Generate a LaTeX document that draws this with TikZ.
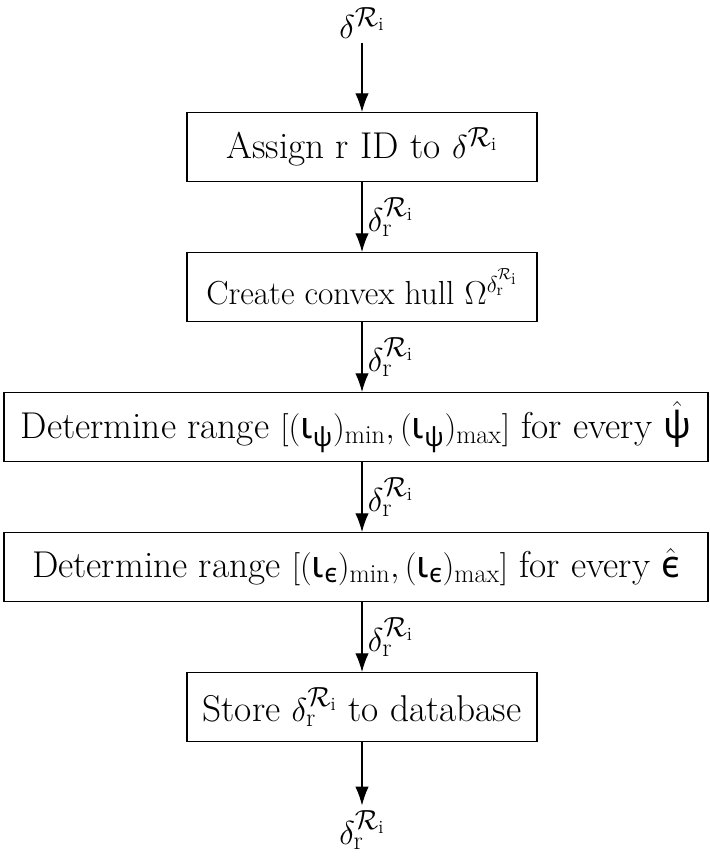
\documentclass[tikz,border=0pt]{standalone}
\usepackage{amsmath}
\usepackage{fontspec}
\usetikzlibrary{arrows.meta}
\newfontfamily\grk{Noto Sans}
\newcommand{\gi}{\text{\grk ι}}
\newcommand{\gpsi}{\text{\grk ψ}}
\newcommand{\geps}{\text{\grk ϵ}}
\newcommand{\dR}{\delta^{\mathcal{R}_{\mathrm{i}}}}
\newcommand{\drR}{\delta_{\mathrm{r}}^{\mathcal{R}_{\mathrm{i}}}}
\begin{document}
\begin{tikzpicture}[x=0.75pt,y=-0.75pt,
  font=\fontsize{28}{33}\selectfont,
  stepbox/.style={draw, line width=0.8pt, minimum height=51.75pt, inner xsep=0pt, inner ysep=0pt, anchor=north},
  flow/.style={draw, line width=0.8pt, -{Latex[length=14pt,width=10pt]}},
  elabel/.style={right, midway, inner sep=4pt}]
\useasboundingbox (0,0) rectangle (710,868);

\node (in) at (362,23) {$\dR$};
\node[stepbox, minimum width=262.5pt] (b1) at (362,112) {Assign r ID to $\dR$};
\node[stepbox, minimum width=262.5pt, font=\fontsize{25}{30}\selectfont] (b2) at (362,252) {Create convex hull $\Omega^{\drR}$};
\node[stepbox, minimum width=528pt] (b3) at (356,392) {Determine range $[(\gi_{\gpsi})_{\mathrm{min}},(\gi_{\gpsi})_{\mathrm{max}}]$ for every $\hat{\gpsi}$};
\node[stepbox, minimum width=528pt] (b4) at (356,532) {Determine range $[(\gi_{\geps})_{\mathrm{min}},(\gi_{\geps})_{\mathrm{max}}]$ for every $\hat{\geps}$};
\node[stepbox, minimum width=262.5pt] (b5) at (362,672) {Store $\drR$ to database};
\node (out) at (362,830) {$\drR$};

\draw[flow] (in) -- (b1);
\draw[flow] (b1) -- node[elabel] {$\drR$} (b2);
\draw[flow] (b2) -- node[elabel] {$\drR$} (b3.north -| b2.south);
\draw[flow] (b3.south -| b2.south) -- node[elabel] {$\drR$} (b4.north -| b2.south);
\draw[flow] (b4.south -| b2.south) -- node[elabel] {$\drR$} (b5);
\draw[flow] (b5) -- (out);
\end{tikzpicture}
\end{document}
